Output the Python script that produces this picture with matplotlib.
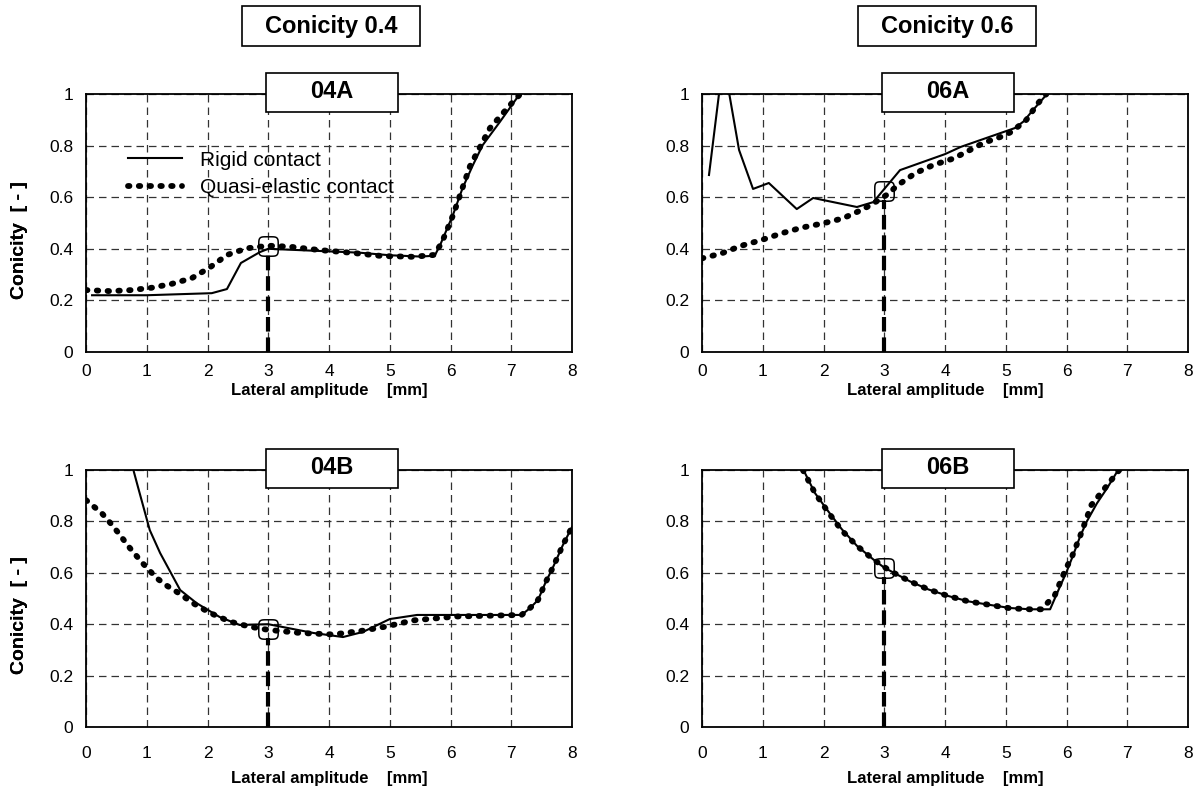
import matplotlib
matplotlib.use("Agg")
import numpy as np
import matplotlib.pyplot as plt
from matplotlib.patches import Rectangle
from matplotlib.path import Path

plt.rcParams['font.family'] = ['Liberation Sans', 'DejaVu Sans']

# ---------------- data ----------------
x_ticks = [0, 1, 2, 3, 4, 5, 6, 7, 8]
y_ticks = [0, 0.2, 0.4, 0.6, 0.8, 1]
y_tick_labels = ['0', '0.2', '0.4', '0.6', '0.8', '1']

# 04A
a04_rigid_x = [0.1, 1.0, 2.07, 2.32, 2.55, 2.86, 3.0, 3.5, 4.0, 4.5, 5.0, 5.5, 5.74, 5.83, 6.04, 6.2, 6.37, 6.53, 6.81, 7.14]
a04_rigid_y = [0.22, 0.22, 0.228, 0.244, 0.345, 0.387, 0.40, 0.395, 0.39, 0.385, 0.375, 0.37, 0.373, 0.415, 0.531, 0.636, 0.725, 0.802, 0.891, 1.0]
a04_quasi_x = [0, 0.4, 0.75, 1.08, 1.41, 1.74, 2.04, 2.32, 2.65, 3.0, 3.36, 3.85, 4.35, 4.87, 5.39, 5.72, 5.85, 6.05, 6.32, 6.65, 6.98, 7.15]
a04_quasi_y = [0.24, 0.236, 0.24, 0.249, 0.264, 0.286, 0.328, 0.376, 0.402, 0.412, 0.408, 0.395, 0.385, 0.372, 0.369, 0.376, 0.42, 0.535, 0.72, 0.868, 0.957, 1.0]

# 06A
a06_rigid_x = [0.115, 0.35, 0.61, 0.84, 1.10, 1.56, 1.83, 2.55, 2.82, 3.26, 4.0, 4.26, 5.15, 5.29, 5.45, 5.68]
a06_rigid_y = [0.686, 1.134, 0.783, 0.632, 0.655, 0.554, 0.597, 0.562, 0.581, 0.705, 0.767, 0.795, 0.868, 0.893, 0.938, 1.0]
a06_quasi_x = [0, 0.32, 0.65, 0.98, 1.31, 1.64, 2.0, 2.32, 2.62, 2.78, 3.08, 3.2, 3.51, 3.81, 4.14, 4.47, 4.63, 4.93, 5.1, 5.34, 5.53, 5.67]
a06_quasi_y = [0.363, 0.382, 0.412, 0.434, 0.46, 0.482, 0.499, 0.518, 0.55, 0.57, 0.615, 0.643, 0.693, 0.725, 0.75, 0.79, 0.81, 0.835, 0.854, 0.9, 0.964, 1.0]

# 04B
b04_rigid_x = [0.78, 0.86, 1.05, 1.22, 1.55, 1.82, 2.2, 2.53, 3.0, 3.74, 4.23, 4.56, 5.0, 5.45, 6.0, 7.17, 7.31, 7.44, 7.56, 7.69, 7.85, 8.0]
b04_rigid_y = [1.0, 0.93, 0.766, 0.677, 0.533, 0.482, 0.428, 0.397, 0.40, 0.366, 0.35, 0.37, 0.42, 0.436, 0.436, 0.436, 0.463, 0.494, 0.56, 0.623, 0.708, 0.778]
b04_quasi_x = [0, 0.26, 0.4, 0.52, 0.72, 0.93, 1.16, 1.33, 1.5, 1.76, 2.04, 2.37, 2.7, 3.0, 3.52, 4.07, 4.56, 4.92, 5.39, 6.1, 7.17, 7.31, 7.44, 7.56, 7.69, 7.85, 8.0]
b04_quasi_y = [0.883, 0.832, 0.794, 0.759, 0.697, 0.638, 0.58, 0.55, 0.525, 0.482, 0.444, 0.41, 0.39, 0.378, 0.366, 0.36, 0.375, 0.39, 0.415, 0.43, 0.436, 0.463, 0.494, 0.56, 0.623, 0.708, 0.778]

# 06B
b06_rigid_x = [1.67, 1.86, 2.06, 2.3, 2.55, 2.82, 3.0, 3.42, 3.73, 4.05, 4.38, 4.74, 5.07, 5.4, 5.73, 5.89, 6.0, 6.11, 6.22, 6.33, 6.5, 6.67, 6.85]
b06_rigid_y = [1.0, 0.91, 0.845, 0.77, 0.705, 0.652, 0.62, 0.567, 0.535, 0.51, 0.489, 0.475, 0.463, 0.458, 0.458, 0.545, 0.603, 0.669, 0.739, 0.798, 0.87, 0.93, 1.0]
b06_quasi_x = [1.66, 1.86, 2.08, 2.30, 2.55, 2.82, 3.09, 3.42, 3.73, 4.05, 4.38, 4.74, 5.07, 5.40, 5.59, 5.81, 5.98, 6.09, 6.22, 6.41, 6.63, 6.87]
b06_quasi_y = [1.0, 0.91, 0.835, 0.765, 0.705, 0.652, 0.608, 0.567, 0.535, 0.51, 0.489, 0.475, 0.462, 0.458, 0.458, 0.514, 0.611, 0.663, 0.74, 0.864, 0.929, 1.0]

# reference point (amplitude 3 mm) per panel
mark_x = [3.0, 3.0, 3.0, 3.0]
mark_y = [0.41, 0.625, 0.38, 0.617]

panel_names = ['04A', '06A', '04B', '06B']
group_titles = ['Conicity 0.4', 'Conicity 0.6']
legend_labels = ['Rigid contact', 'Quasi-elastic contact']
xlabel = 'Lateral amplitude    [mm]'
ylabel = 'Conicity  [ - ]'

# ---------------- layout ----------------
W, H = 1203, 808
fig = plt.figure(figsize=(W / 100, H / 100), dpi=100)

axes_px = [(86, 94, 572, 352), (702, 94, 1188, 352),
           (86, 470, 572, 727), (702, 470, 1188, 727)]
tick_pad = [9, 9, 14, 14]
xlabel_off = [39, 39, 51, 51]

series = [
    (a04_rigid_x, a04_rigid_y, a04_quasi_x, a04_quasi_y),
    (a06_rigid_x, a06_rigid_y, a06_quasi_x, a06_quasi_y),
    (b04_rigid_x, b04_rigid_y, b04_quasi_x, b04_quasi_y),
    (b06_rigid_x, b06_rigid_y, b06_quasi_x, b06_quasi_y),
]

# rounded square marker (superellipse outline)
_t = np.linspace(0, 2 * np.pi, 80)
_c, _s = np.cos(_t), np.sin(_t)
_vx = np.sign(_c) * np.abs(_c) ** 0.4
_vy = np.sign(_s) * np.abs(_s) ** 0.4
rsq = Path(np.column_stack([_vx, _vy]), closed=True)


def fig_rect(x0, y0, x1, y1):
    r = Rectangle((x0 / W, 1 - y1 / H), (x1 - x0) / W, (y1 - y0) / H,
                  transform=fig.transFigure, facecolor='white', edgecolor='black',
                  linewidth=1.2, zorder=10)
    fig.add_artist(r)


for i, (x0, y0, x1, y1) in enumerate(axes_px):
    ax = fig.add_axes([x0 / W, 1 - y1 / H, (x1 - x0) / W, (y1 - y0) / H])
    rx, ry, qx, qy = series[i]
    ax.plot(rx, ry, color='black', lw=1.5, zorder=3, label=legend_labels[0])
    ax.plot(qx, qy, color='black', lw=4.2, linestyle=(0, (0.25, 1.6)),
            dash_capstyle='round', zorder=4, label=legend_labels[1])
    # reference dashed line and marker
    ax.plot([mark_x[i], mark_x[i]], [0, mark_y[i] - 0.035], color='black', lw=3,
            linestyle=(0, (3.5, 1.4)), dash_capstyle='butt', zorder=5)
    ax.plot([mark_x[i]], [mark_y[i]], marker=rsq, markersize=14,
            markerfacecolor='none', markeredgecolor='black', mew=1.1, zorder=6)

    ax.set_xlim(0, 8)
    ax.set_ylim(0, 1)
    ax.set_xticks(x_ticks)
    ax.set_yticks(y_ticks)
    ax.set_yticklabels(y_tick_labels)
    ax.tick_params(length=0, labelsize=12.5, pad=9)
    ax.tick_params(axis='x', pad=tick_pad[i])
    ax.grid(True, color='#333333', lw=0.9, linestyle=(0, (6, 4)))
    for s in ax.spines.values():
        s.set_linewidth(1.3)
        s.set_color('black')

    if i == 0:
        ax.legend(loc='upper left', bbox_to_anchor=(0.087, 0.78), frameon=False,
                  fontsize=15, handlelength=2.6, handletextpad=0.85,
                  borderpad=0, borderaxespad=0, labelspacing=0.4)

    cx = (x0 + x1) / 2
    fig.text(cx / W, 1 - (y1 + xlabel_off[i]) / H, xlabel, ha='center', va='center',
             fontsize=12, fontweight='bold')
    fig.text(20 / W, 1 - ((y0 + y1) / 2 + 17) / H, ylabel, ha='center', va='center',
             rotation=90, fontsize=14, fontweight='bold')

    # panel label box
    bx = cx + 3
    fig_rect(bx - 66, y0 - 21, bx + 66, y0 + 18)
    fig.text(bx / W, 1 - (y0 - 2) / H, panel_names[i], ha='center', va='center',
             fontsize=17, fontweight='bold', zorder=11)

# group titles
for j, (x0, y0, x1, y1) in enumerate(axes_px[:2]):
    cx = (x0 + x1) / 2 + 2
    fig_rect(cx - 89, 6, cx + 89, 46)
    fig.text(cx / W, 1 - 26 / H, group_titles[j], ha='center', va='center',
             fontsize=17, fontweight='bold', zorder=11)

fig.savefig('out.png', dpi=100)
